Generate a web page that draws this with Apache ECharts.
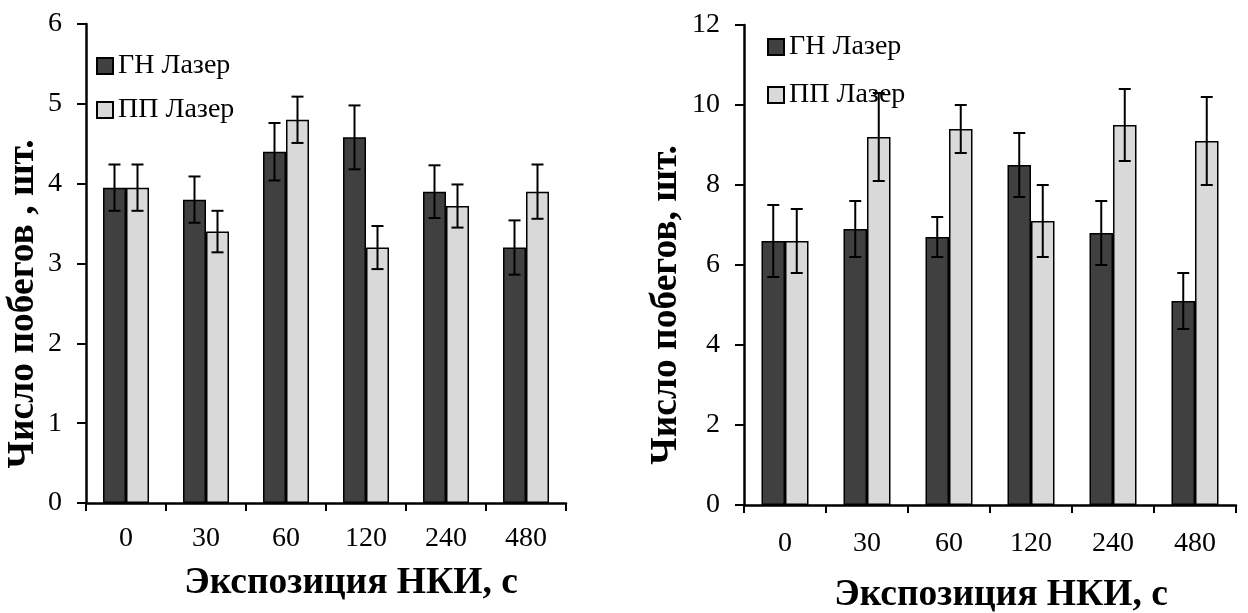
<!DOCTYPE html>
<html>
<head>
<meta charset="utf-8">
<script src="https://cdn.jsdelivr.net/npm/echarts@6/dist/echarts.min.js"></script>
<style>
  html, body { margin: 0; padding: 0; background: #fff; }
  #main { width: 1248px; height: 613px; }
</style>
</head>
<body>
<div id="main"></div>
<script>
// категории (экспозиция НКИ, с)
var categories = ['0', '30', '60', '120', '240', '480'];
var seriesNames = ['ГН Лазер', 'ПП Лазер'];

// левый график: число побегов, шт.
var leftGN = [3.95, 3.8, 4.4, 4.58, 3.9, 3.2];
var leftGNErr = [0.29, 0.29, 0.36, 0.4, 0.33, 0.34];
var leftPP = [3.95, 3.4, 4.8, 3.2, 3.72, 3.9];
var leftPPErr = [0.29, 0.26, 0.29, 0.27, 0.27, 0.34];

// правый график
var rightGN = [6.6, 6.9, 6.7, 8.5, 6.8, 5.1];
var rightGNErr = [0.9, 0.7, 0.5, 0.8, 0.8, 0.7];
var rightPP = [6.6, 9.2, 9.4, 7.1, 9.5, 9.1];
var rightPPErr = [0.8, 1.1, 0.6, 0.9, 0.9, 1.1];

var leftTicks = { min: 0, max: 6, interval: 1 };
var rightTicks = { min: 0, max: 12, interval: 2 };

var FONT = 'Liberation Serif';
var DARK = '#404040', LIGHT = '#d9d9d9';

// [индекс, низ, верх] для планок погрешностей
function errData(vals, errs) {
    return vals.map(function (v, i) { return [i, v - errs[i], v + errs[i]]; });
}

function errRender(offset) {
    return function (params, api) {
        var x = api.coord([api.value(0), 0])[0] + offset;
        var lo = api.coord([api.value(0), api.value(1)])[1];
        var hi = api.coord([api.value(0), api.value(2)])[1];
        var w = 6;
        var st = { stroke: '#000', lineWidth: 2 };
        return {
            type: 'group',
            children: [
                { type: 'line', shape: { x1: x, y1: hi, x2: x, y2: lo }, style: st },
                { type: 'line', shape: { x1: x - w, y1: hi, x2: x + w, y2: hi }, style: st },
                { type: 'line', shape: { x1: x - w, y1: lo, x2: x + w, y2: lo }, style: st }
            ]
        };
    };
}

function xAxisCfg(grid, margin) {
    return {
        type: 'category',
        gridIndex: grid,
        data: categories,
        boundaryGap: true,
        axisLine: { lineStyle: { color: '#000', width: 2.5 } },
        axisTick: { show: true, inside: false, length: 8, interval: 0, lineStyle: { color: '#000', width: 2 } },
        axisLabel: { color: '#000', fontFamily: FONT, fontSize: 28, margin: margin, interval: 0 },
        splitLine: { show: false }
    };
}

function yAxisCfg(grid, t) {
    return {
        type: 'value',
        gridIndex: grid,
        min: t.min, max: t.max, interval: t.interval,
        axisLine: { show: true, lineStyle: { color: '#000', width: 2.5 } },
        axisTick: { show: true, inside: false, length: 9, lineStyle: { color: '#000', width: 2 } },
        axisLabel: { color: '#000', fontFamily: FONT, fontSize: 28, margin: 24 },
        splitLine: { show: false }
    };
}

function barCfg(name, data, grid, color, bw) {
    return {
        name: name,
        type: 'bar',
        xAxisIndex: grid,
        yAxisIndex: grid,
        data: data,
        barWidth: bw,
        barGap: '0%',
        itemStyle: { color: color, borderColor: '#000', borderWidth: 1.5 },
        emphasis: { disabled: true },
        z: 2
    };
}

function errCfg(name, data, grid, offset) {
    return {
        name: name,
        type: 'custom',
        xAxisIndex: grid,
        yAxisIndex: grid,
        data: data,
        renderItem: errRender(offset),
        encode: { x: 0, y: [1, 2] },
        z: 5,
        silent: true
    };
}

function legendCfg(left, top, gap) {
    return {
        orient: 'vertical',
        left: left,
        top: top,
        padding: 0,
        data: seriesNames,
        itemWidth: 16,
        itemHeight: 16,
        itemGap: gap,
        icon: 'rect',
        selectedMode: false,
        textStyle: { color: '#000', fontFamily: FONT, fontSize: 28, lineHeight: 28 }
    };
}

var titleStyle = { fill: '#000', font: 'bold 37.5px "Liberation Serif"', textAlign: 'center', textVerticalAlign: 'middle' };

var chart = echarts.init(document.getElementById('main'));
var option = {
    animation: false,
    backgroundColor: '#fff',
    grid: [
        { left: 86, top: 24, width: 480, height: 479 },
        { left: 744, top: 25, width: 492, height: 480 }
    ],
    xAxis: [xAxisCfg(0, 22), xAxisCfg(1, 25)],
    yAxis: [yAxisCfg(0, leftTicks), yAxisCfg(1, rightTicks)],
    legend: [legendCfg(96, 52, 16), legendCfg(767, 33, 20)],
    series: [
        barCfg(seriesNames[0], leftGN, 0, DARK, 23),
        barCfg(seriesNames[1], leftPP, 0, LIGHT, 23),
        barCfg(seriesNames[0], rightGN, 1, DARK, 23.5),
        barCfg(seriesNames[1], rightPP, 1, LIGHT, 23.5),
        errCfg('err1', errData(leftGN, leftGNErr), 0, -11.5),
        errCfg('err2', errData(leftPP, leftPPErr), 0, 11.5),
        errCfg('err3', errData(rightGN, rightGNErr), 1, -11.75),
        errCfg('err4', errData(rightPP, rightPPErr), 1, 11.75)
    ],
    graphic: [
        { type: 'text', x: 351, y: 583, style: Object.assign({ text: 'Экспозиция НКИ, с' }, titleStyle) },
        { type: 'text', x: 1001, y: 595, style: Object.assign({ text: 'Экспозиция НКИ, с' }, titleStyle) },
        { type: 'text', x: 23, y: 304, rotation: Math.PI / 2, style: Object.assign({ text: 'Число побегов , шт.' }, titleStyle) },
        { type: 'text', x: 666, y: 305, rotation: Math.PI / 2, style: Object.assign({ text: 'Число побегов, шт.' }, titleStyle) }
    ]
};
chart.setOption(option);
</script>
</body>
</html>
